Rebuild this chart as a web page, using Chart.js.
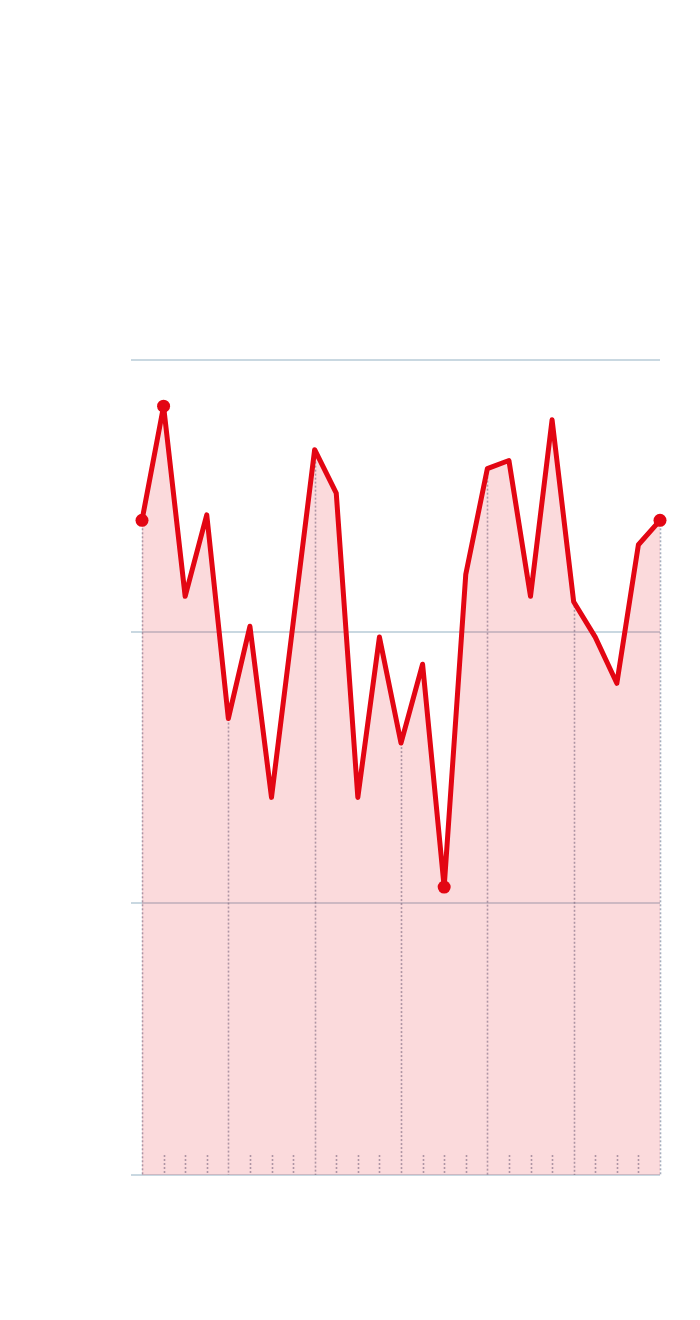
<!DOCTYPE html>
<html>
<head>
<meta charset="utf-8">
<script src="https://cdn.jsdelivr.net/npm/chart.js@4/dist/chart.umd.min.js"></script>
<style>
  html, body { margin: 0; padding: 0; background: #ffffff; }
  #wrap { width: 700px; height: 1320px; }
</style>
</head>
<body>
<div id="wrap"><canvas id="c" width="700" height="1320"></canvas></div>
<script>
// Data
const categories = ['1','2','3','4','5','6','7','8','9','10','11','12','13','14','15','16','17','18','19','20','21','22','23','24','25'];
const values = [24.1, 28.3, 21.3, 24.3, 16.8, 20.2, 13.9, 20.3, 26.7, 25.1, 13.9, 19.8, 15.9, 18.8, 10.6, 22.1, 26.0, 26.3, 21.3, 27.8, 21.1, 19.8, 18.1, 23.2, 24.1];
const yTicks = [0, 10, 20, 30];

const maxIdx = values.indexOf(Math.max(...values));
const minIdx = values.indexOf(Math.min(...values));
const markerIdx = [0, maxIdx, minIdx, values.length - 1];
const pointRadii = values.map((v, i) => markerIdx.includes(i) ? 6.5 : 0);

const dropLines = {
  id: 'dropLines',
  beforeDatasetsDraw(chart) {
    const ctx = chart.ctx;
    const xs = chart.scales.x, ys = chart.scales.y;
    const bottom = ys.getPixelForValue(yTicks[0]);
    ctx.save();
    ctx.setLineDash([2, 2]);
    ctx.lineWidth = 1.6;
    ctx.strokeStyle = 'rgba(105,120,145,0.6)';
    values.forEach((v, i) => {
      const x = Math.round(xs.getPixelForValue(i)) + 0.5;
      const top = (i % 4 === 0) ? ys.getPixelForValue(v) : bottom - 20;
      ctx.beginPath();
      ctx.moveTo(x, top);
      ctx.lineTo(x, bottom);
      ctx.stroke();
    });
    ctx.restore();
  }
};

new Chart(document.getElementById('c'), {
  type: 'line',
  data: {
    labels: categories,
    datasets: [{
      data: values,
      borderColor: '#e30613',
      borderWidth: 5,
      borderJoinStyle: 'round',
      borderCapStyle: 'round',
      backgroundColor: 'rgba(227,6,19,0.15)',
      fill: 'origin',
      tension: 0,
      pointRadius: pointRadii,
      pointBackgroundColor: '#e30613',
      pointBorderWidth: 0,
      pointHoverRadius: pointRadii,
      clip: false
    }]
  },
  options: {
    responsive: false,
    animation: false,
    events: [],
    layout: { padding: { left: 131, right: 40, top: 360, bottom: 145 } },
    plugins: { legend: { display: false }, tooltip: { enabled: false } },
    scales: {
      x: {
        display: false,
        offset: false
      },
      y: {
        min: yTicks[0],
        max: yTicks[yTicks.length - 1],
        afterBuildTicks(scale) { scale.ticks = yTicks.map(v => ({ value: v })); },
        ticks: { display: false },
        border: { display: false },
        grid: {
          color: '#c9d8e1',
          lineWidth: 2,
          drawTicks: true,
          tickLength: 11
        }
      }
    }
  },
  plugins: [dropLines]
});
</script>
</body>
</html>
